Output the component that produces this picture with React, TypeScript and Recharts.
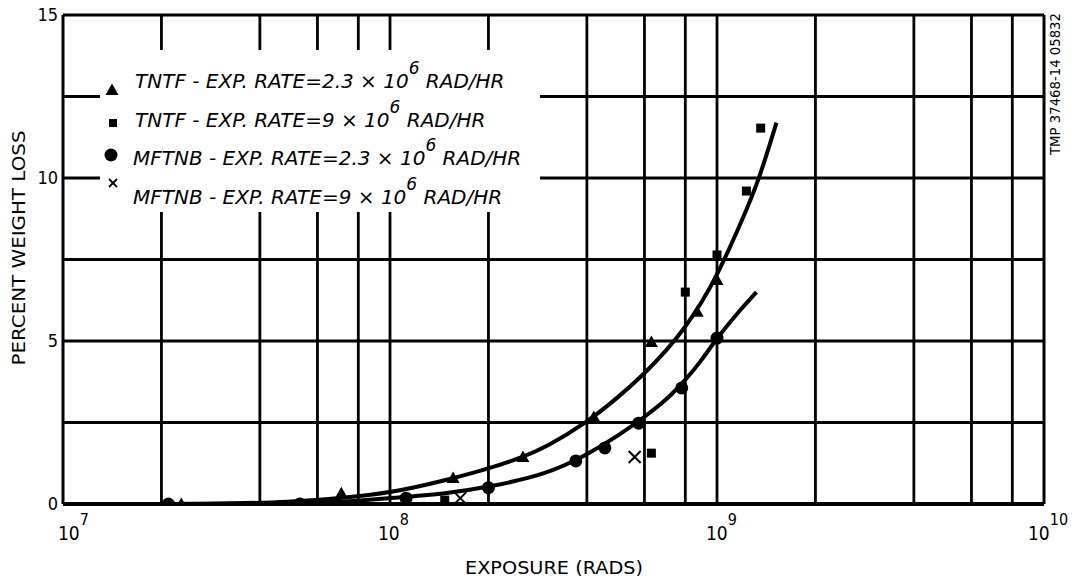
import React from 'react';
import {
  ComposedChart,
  XAxis,
  YAxis,
  Line,
  Scatter,
  ReferenceLine,
  Legend,
  Customized,
} from 'recharts';

// ---------- data ----------
const xTicks = [1e7, 1e8, 1e9, 1e10];
const xTickExponents = ['7', '8', '9', '10'];
const xTickShift = [-5, -12, -11, -16];
const yTicks = [0, 5, 10, 15];
const xGridValues = [2e7, 4e7, 6e7, 8e7, 1e8, 2e8, 4e8, 6e8, 8e8, 1e9, 2e9, 4e9, 6e9, 8e9];
const yGridValues = [2.5, 5, 7.5, 10, 12.5];

// TNTF - 2.3e6 rad/hr (triangles)
const tntfSlowPoints = [
  { x: 2.3e7, y: 0 },
  { x: 7.1e7, y: 0.33 },
  { x: 1.56e8, y: 0.8 },
  { x: 2.55e8, y: 1.44 },
  { x: 4.2e8, y: 2.67 },
  { x: 6.3e8, y: 4.97 },
  { x: 8.7e8, y: 5.9 },
  { x: 1.0e9, y: 6.87 },
];
// TNTF - 9e6 rad/hr (squares)
const tntfFastPoints = [
  { x: 1.47e8, y: 0.12 },
  { x: 6.3e8, y: 1.56 },
  { x: 8.0e8, y: 6.5 },
  { x: 1.0e9, y: 7.64 },
  { x: 1.23e9, y: 9.6 },
  { x: 1.36e9, y: 11.53 },
];
// MFTNB - 2.3e6 rad/hr (circles)
const mftnbSlowPoints = [
  { x: 2.1e7, y: 0 },
  { x: 5.3e7, y: 0 },
  { x: 1.12e8, y: 0.18 },
  { x: 2.0e8, y: 0.5 },
  { x: 3.7e8, y: 1.32 },
  { x: 4.54e8, y: 1.72 },
  { x: 5.76e8, y: 2.48 },
  { x: 7.8e8, y: 3.56 },
  { x: 1.0e9, y: 5.09 },
];
// MFTNB - 9e6 rad/hr (crosses)
const mftnbFastPoints = [
  { x: 1.64e8, y: 0.18 },
  { x: 5.6e8, y: 1.44 },
];

// hand-drawn fitted curves
const tntfCurve = [
  { x: 1e7, y: 0 },
  { x: 3e7, y: 0 },
  { x: 5e7, y: 0.06 },
  { x: 7e7, y: 0.18 },
  { x: 1e8, y: 0.33 },
  { x: 1.5e8, y: 0.74 },
  { x: 2e8, y: 1.08 },
  { x: 2.55e8, y: 1.44 },
  { x: 3e8, y: 1.74 },
  { x: 4e8, y: 2.5 },
  { x: 5e8, y: 3.28 },
  { x: 6e8, y: 4.0 },
  { x: 7e8, y: 4.7 },
  { x: 8e8, y: 5.42 },
  { x: 9e8, y: 6.2 },
  { x: 1e9, y: 7.0 },
  { x: 1.2e9, y: 8.75 },
  { x: 1.35e9, y: 10.0 },
  { x: 1.52e9, y: 11.7 },
];
const mftnbCurve = [
  { x: 1e7, y: 0 },
  { x: 4e7, y: 0 },
  { x: 6e7, y: 0.03 },
  { x: 8e7, y: 0.1 },
  { x: 1e8, y: 0.18 },
  { x: 1.5e8, y: 0.32 },
  { x: 2e8, y: 0.52 },
  { x: 3e8, y: 0.9 },
  { x: 4e8, y: 1.5 },
  { x: 5e8, y: 2.1 },
  { x: 6e8, y: 2.67 },
  { x: 7e8, y: 3.19 },
  { x: 8e8, y: 3.8 },
  { x: 9e8, y: 4.42 },
  { x: 1e9, y: 5.1 },
  { x: 1.2e9, y: 6.05 },
  { x: 1.32e9, y: 6.5 },
];

const legendLabels = [
  'TNTF - EXP. RATE=2.3 \u00d7 10',
  'TNTF - EXP. RATE=9 \u00d7 10',
  'MFTNB - EXP. RATE=2.3 \u00d7 10',
  'MFTNB - EXP. RATE=9 \u00d7 10',
];
const legendSup = '6';
const legendTail = ' RAD/HR';
const xTitle = 'EXPOSURE (RADS)';
const yTitle = 'PERCENT WEIGHT LOSS';
const sideCode = 'TMP 37468-14 05832';

// ---------- styles ----------
const FONT = '"DejaVu Sans", sans-serif';
const FONT_C = '"DejaVu Sans Condensed", "DejaVu Sans", sans-serif';

const TriangleShape = (p: any) => (
  <polygon
    points={`${p.cx},${p.cy - 6.5} ${p.cx - 6.5},${p.cy + 5} ${p.cx + 6.5},${p.cy + 5}`}
    fill="#000"
  />
);
const SquareShape = (p: any) => (
  <rect x={p.cx - 4.5} y={p.cy - 4.5} width={9} height={9} fill="#000" />
);
const CircleShape = (p: any) => <circle cx={p.cx} cy={p.cy} r={6.5} fill="#000" />;
const CrossShape = (p: any) => (
  <g stroke="#000" strokeWidth={2}>
    <line x1={p.cx - 6} y1={p.cy - 6} x2={p.cx + 6} y2={p.cy + 6} />
    <line x1={p.cx - 6} y1={p.cy + 6} x2={p.cx + 6} y2={p.cy - 6} />
  </g>
);

const XTick = (props: any) => {
  const { x, y, payload } = props;
  const i = xTicks.indexOf(payload.value);
  return (
    <text x={x + xTickShift[i]} y={y + 36} fontFamily={FONT_C} fontSize={19} fill="#000">
      10
      <tspan dy={-15} fontSize={16}>
        {xTickExponents[i]}
      </tspan>
    </text>
  );
};

const LegendContent = () => {
  const markers = [
    <polygon key="t" points="12,33.5 5.5,45 18.5,45" fill="#000" />,
    <rect key="s" x={9} y={69} width={8} height={8} fill="#000" />,
    <circle key="c" cx={11} cy={105} r={6.5} fill="#000" />,
    <g key="x" stroke="#000" strokeWidth={1.8}>
      <line x1={9} y1={129} x2={17} y2={137} />
      <line x1={9} y1={137} x2={17} y2={129} />
    </g>,
  ];
  const textX = [35, 35, 33, 33];
  const baselines = [38, 77, 115, 154];
  return (
    <svg width={440} height={162} style={{ display: 'block' }}>
      <rect x={0} y={0} width={440} height={162} fill="#fff" />
      {markers}
      {legendLabels.map((lab, i) => (
        <text
          key={i}
          x={textX[i]}
          y={baselines[i]}
          fontFamily={FONT}
          fontStyle="italic"
          fontSize={20}
          fill="#000"
        >
          {lab}
          <tspan dy={-14} fontSize={17}>
            {legendSup}
          </tspan>
          <tspan dy={14}>{legendTail}</tspan>
        </text>
      ))}
    </svg>
  );
};

const Titles = () => (
  <g fill="#000">
    <text
      x={25}
      y={248}
      transform="rotate(-90 25 248)"
      textAnchor="middle"
      fontFamily={FONT}
      fontSize={17}
      textLength={235}
      lengthAdjust="spacingAndGlyphs"
    >
      {yTitle}
    </text>
    <text
      x={554}
      y={574}
      textAnchor="middle"
      fontFamily={FONT}
      fontSize={18}
      textLength={178}
      lengthAdjust="spacingAndGlyphs"
    >
      {xTitle}
    </text>
    <text
      x={1060}
      y={84}
      transform="rotate(-90 1060 84)"
      textAnchor="middle"
      fontFamily={FONT_C}
      fontSize={14}
      textLength={142}
      lengthAdjust="spacingAndGlyphs"
    >
      {sideCode}
    </text>
  </g>
);

export default function App() {
  return (
    <div style={{ position: 'absolute', left: 0, top: 0, width: 1075, height: 583, background: '#fff' }}>
      <ComposedChart width={1075} height={583} margin={{ top: 15, right: 31, bottom: 0, left: 0 }}>
        <XAxis
          dataKey="x"
          type="number"
          scale="log"
          domain={[1e7, 1e10]}
          ticks={xTicks}
          allowDataOverflow
          height={79}
          tickLine={false}
          tickSize={0}
          tickMargin={0}
          axisLine={{ stroke: '#000', strokeWidth: 4 }}
          tick={<XTick />}
          interval={0}
        />
        <YAxis
          dataKey="y"
          type="number"
          domain={[0, 15]}
          ticks={yTicks}
          allowDataOverflow
          width={63}
          tickLine={false}
          tickSize={0}
          tickMargin={5}
          axisLine={{ stroke: '#000', strokeWidth: 3 }}
          tick={{ fill: '#000', fontSize: 18, fontFamily: FONT_C }}
          interval={0}
        />
        {xGridValues.map((v) => (
          <ReferenceLine key={`gx${v}`} x={v} stroke="#000" strokeWidth={2.8} />
        ))}
        {yGridValues.map((v) => (
          <ReferenceLine key={`gy${v}`} y={v} stroke="#000" strokeWidth={2.8} />
        ))}
        <ReferenceLine y={15} stroke="#000" strokeWidth={3} />
        <ReferenceLine x={1e10} stroke="#000" strokeWidth={3} />

        <Line
          data={tntfCurve}
          dataKey="y"
          type="basis"
          stroke="#000"
          strokeWidth={4}
          dot={false}
          activeDot={false}
          isAnimationActive={false}
          legendType="none"
        />
        <Line
          data={mftnbCurve}
          dataKey="y"
          type="basis"
          stroke="#000"
          strokeWidth={4}
          dot={false}
          activeDot={false}
          isAnimationActive={false}
          legendType="none"
        />
        <Scatter data={tntfSlowPoints} dataKey="y" shape={TriangleShape} isAnimationActive={false} />
        <Scatter data={tntfFastPoints} dataKey="y" shape={SquareShape} isAnimationActive={false} />
        <Scatter data={mftnbSlowPoints} dataKey="y" shape={CircleShape} isAnimationActive={false} />
        <Scatter data={mftnbFastPoints} dataKey="y" shape={CrossShape} isAnimationActive={false} />

        <Customized component={Titles} />
        <Legend
          layout="horizontal"
          verticalAlign="middle"
          align="center"
          content={<LegendContent />}
          wrapperStyle={{ left: 100, top: 50, width: 440, height: 162, backgroundColor: '#fff' }}
        />
      </ComposedChart>
    </div>
  );
}
